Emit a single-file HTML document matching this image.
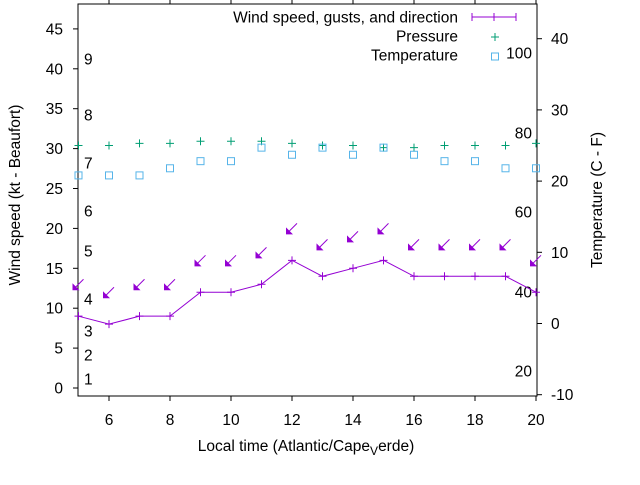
<!DOCTYPE html>
<html><head><meta charset="utf-8"><style>
body{margin:0;background:#fff}
svg{font-family:"Liberation Sans",sans-serif;font-size:15.5px}
</style></head><body>
<svg id="c" width="640" height="480" viewBox="0 0 640 480" xmlns="http://www.w3.org/2000/svg"></svg>
<script>
const hours=[5,6,7,8,9,10,11,12,13,14,15,16,17,18,19,20];
const windSpeed=[9,8,9,9,12,12,13,16,14,15,16,14,14,14,14,12];
const gusts=[13,12,13,13,16,16,17,20,18,19,20,18,18,18,18,16];
const pressure=[25.0,25.0,25.3,25.3,25.6,25.6,25.6,25.3,25.0,25.0,24.7,24.7,25.0,25.0,25.0,25.3];
const temperature=[20.8,20.8,20.8,21.8,22.8,22.8,24.7,23.7,24.7,23.7,24.7,23.7,22.8,22.8,21.8,21.8];
const xTicks=[6,8,10,12,14,16,18,20];
const yTicks=[0,5,10,15,20,25,30,35,40,45];
const y2Ticks=[-10,0,10,20,30,40];
const beaufort=[[1,379],[2,355],[3,331],[4,299],[5,251],[6,211],[7,163],[8,115],[9,59]];
const fahr=[[20,371],[40,292],[60,212],[80,133],[100,53]];
const L=78,R=537,T=4,B=396;
const X=h=>78.5+(h-5)*30.5;
const Y=v=>388-v*7.98;
const Y2=v=>323.5-v*7.12;
const s=document.getElementById('c');const NS='http://www.w3.org/2000/svg';
function el(t,a,txt){const e=document.createElementNS(NS,t);for(const k in a)e.setAttribute(k,a[k]);if(txt!==undefined)e.textContent=txt;s.appendChild(e);return e;}
let e;
e=el('rect',{x:L,y:T,width:R-L,height:B-T,fill:'none',stroke:'#000','stroke-width':1});

xTicks.forEach(h=>{const x=X(h);
 e=el('line',{x1:x,y1:B,x2:x,y2:B+5,stroke:'#000'});
 e=el('line',{x1:x,y1:T,x2:x,y2:T-4,stroke:'#000'});
 e=el('text',{x:x,y:425,'text-anchor':'middle'},h);});
yTicks.forEach(v=>{const y=Y(v);
 e=el('line',{x1:L-5,y1:y,x2:L,y2:y,stroke:'#000'});
 e=el('text',{x:63,y:y+5.5,'text-anchor':'end'},v);});
y2Ticks.forEach(v=>{const y=Y2(v);
 e=el('line',{x1:R,y1:y,x2:R+5,y2:y,stroke:'#000'});
 e=el('text',{x:551,y:y+5.5},v);});
beaufort.forEach(b=>{e=el('text',{x:84,y:b[1]+5.5},b[0]);});
fahr.forEach(f=>{e=el('text',{x:532,y:f[1]+5.5,'text-anchor':'end'},f[0]);});
e=el('text',{x:20,y:195,'text-anchor':'middle',transform:'rotate(-90 20 195)'},'Wind speed (kt - Beaufort)');
e=el('text',{x:602,y:200,'text-anchor':'middle',transform:'rotate(-90 602 200)'},'Temperature (C - F)');
e=el('text',{x:306,y:451,'text-anchor':'middle'});
e.innerHTML='Local time (Atlantic/Cape<tspan font-size="12" dy="4">V</tspan><tspan dy="-4">erde)</tspan>';
e=el('polyline',{points:hours.map((h,i)=>X(h)+','+Y(windSpeed[i])).join(' '),fill:'none',stroke:'#9400d3','stroke-width':1});

const P='#9400d3';
hours.forEach((h,i)=>{const x=X(h),y=Y(windSpeed[i]);
 e=el('path',{d:`M${x-4},${y}H${x+4}M${x},${y-4}V${y+4}`,stroke:P});
 const gx=X(h),gy=Y(gusts[i]);
 e=el('g',{});
 const g=e;
 const l=document.createElementNS(NS,'path');l.setAttribute('d',`M${gx+5},${gy-5}L${gx-5},${gy+5}`);l.setAttribute('stroke',P);g.appendChild(l);
 const t=document.createElementNS(NS,'path');t.setAttribute('d',`M${gx-6},${gy+6}L${gx-6},${gy-1}L${gx+1},${gy+6}Z`);t.setAttribute('fill',P);g.appendChild(t);
 const px=X(h),py=Y2(pressure[i]);
 e=el('path',{d:`M${px-4},${py}H${px+4}M${px},${py-4}V${py+4}`,stroke:'#009e73'});
 const ty=Y2(temperature[i]);
 e=el('rect',{x:px-3.5,y:ty-3.5,width:7,height:7,fill:'none',stroke:'#56b4e9'});
});
e=el('text',{x:458,y:22.5,'text-anchor':'end'},'Wind speed, gusts, and direction');
e=el('path',{d:'M472,17H516M472,13V21M494,13V21M516,13V21',stroke:P});
e=el('text',{x:458,y:41.5,'text-anchor':'end'},'Pressure');
e=el('path',{d:'M491,37H499M495,33V41',stroke:'#009e73'});
e=el('text',{x:458,y:60.5,'text-anchor':'end'},'Temperature');
e=el('rect',{x:491.5,y:53,width:7,height:7,fill:'none',stroke:'#56b4e9'});
</script>
</body></html>
